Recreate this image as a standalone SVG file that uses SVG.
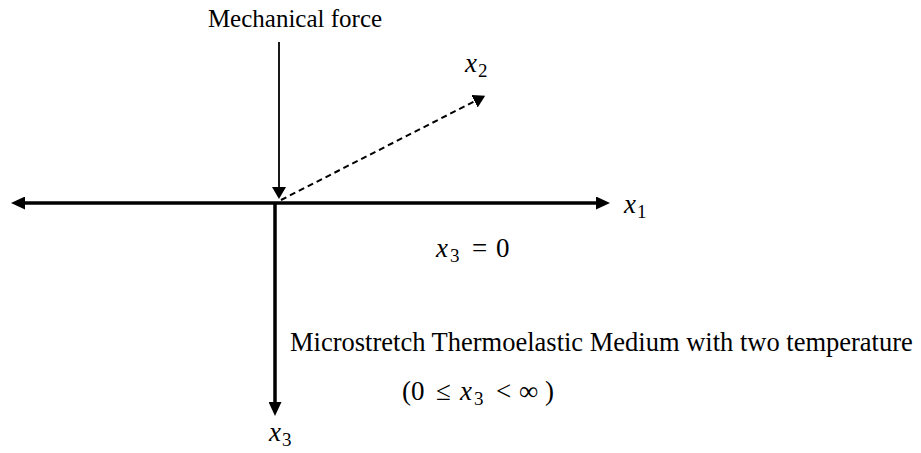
<svg xmlns="http://www.w3.org/2000/svg" width="921" height="453" viewBox="0 0 921 453">
<style>
.lbl{font-family:"Liberation Serif","Times New Roman",serif;fill:#000}
.m{font-family:"Liberation Serif","Times New Roman",serif;font-size:27px;fill:#000}
.mi{font-style:italic}
.sub{font-size:19px}
.ax{stroke:#000;stroke-width:3.5;fill:none}
.thin{stroke:#000;stroke-width:1.8;fill:none}
.dash{stroke:#000;stroke-width:2;fill:none;stroke-dasharray:6 4}
</style>
<defs>
<marker id="ah" markerUnits="userSpaceOnUse" markerWidth="14" markerHeight="13" refX="0" refY="6.5" orient="auto-start-reverse" viewBox="0 0 14 13">
<path d="M0,0 L14,6.5 L0,13 z" fill="#000"/>
</marker>
<marker id="ahs" markerUnits="userSpaceOnUse" markerWidth="12" markerHeight="14" refX="0" refY="7" orient="auto" viewBox="0 0 12 14">
<path d="M0,0 L12,7 L0,14 z" fill="#000"/>
</marker>
</defs>
<g id="connectors">
<line class="ax" x1="25" y1="203" x2="596" y2="203" marker-start="url(#ah)" marker-end="url(#ah)"/>
<line class="ax" x1="275" y1="203" x2="275" y2="402" marker-end="url(#ah)"/>
<line class="thin" x1="279" y1="42" x2="279" y2="187" marker-end="url(#ahs)"/>
<line class="dash" x1="281" y1="200" x2="474.5" y2="101.3" marker-end="url(#ahs)"/>
</g>
<g id="force-label"><text class="lbl" font-size="25" x="295" y="27" text-anchor="middle">Mechanical force</text></g>
<g id="x2-label"><text class="m" x="465" y="72"><tspan class="mi">x</tspan><tspan class="sub" x="478" dy="5">2</tspan></text></g>
<g id="x1-label"><text class="m" x="624" y="213"><tspan class="mi">x</tspan><tspan class="sub" x="637" dy="5">1</tspan></text></g>
<g id="plane-label"><text class="m" x="436" y="257"><tspan class="mi">x</tspan><tspan class="sub" x="450" dy="5">3</tspan><tspan x="472" dy="-5">=</tspan><tspan x="496">0</tspan></text></g>
<g id="medium-label"><text class="lbl" font-size="26.5" x="290" y="351">Microstretch Thermoelastic Medium with two temperature</text></g>
<g id="range-label"><text class="m" x="402" y="400">(<tspan x="411">0</tspan><tspan x="436">≤</tspan><tspan class="mi" x="460">x</tspan><tspan class="sub" x="474" dy="5">3</tspan><tspan x="496" dy="-5">&lt;</tspan><tspan x="519">∞</tspan><tspan x="545">)</tspan></text></g>
<g id="x3-label"><text class="m" x="269" y="441"><tspan class="mi">x</tspan><tspan class="sub" x="282" dy="5">3</tspan></text></g>
</svg>
